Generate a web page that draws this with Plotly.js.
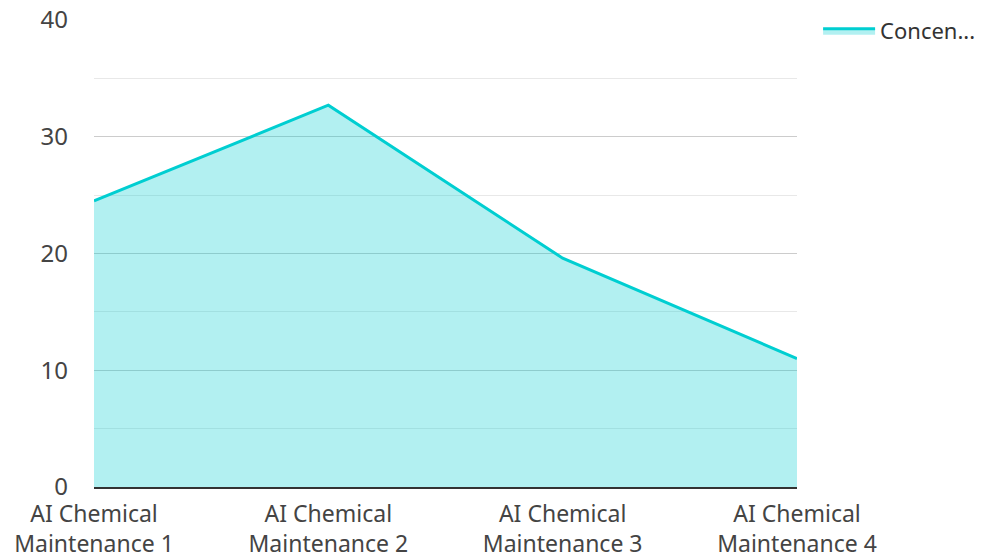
<!DOCTYPE html>
<html>
<head>
<meta charset="utf-8">
<script src="https://cdn.plot.ly/plotly-3.0.1.min.js"></script>
<style>html,body{margin:0;padding:0;background:#fff;}#chart{width:988px;height:559px;}</style>
</head>
<body>
<div id="chart"></div>
<script>
const categories = ["AI Chemical<br>Maintenance 1", "AI Chemical<br>Maintenance 2", "AI Chemical<br>Maintenance 3", "AI Chemical<br>Maintenance 4"];
const seriesName = "Concen...";
const concentration = [24.5, 32.7, 19.6, 11.0];
const yTickVals = [0, 10, 20, 30, 40];

const trace = {
  type: "scatter",
  mode: "lines",
  x: categories,
  y: concentration,
  name: seriesName,
  fill: "tozeroy",
  fillcolor: "rgba(0,206,209,0.3)",
  line: {color: "#00CED1", width: 3}
};

const layout = {
  width: 988,
  height: 559,
  margin: {l: 94, r: 191, t: 20, b: 72, autoexpand: false},
  paper_bgcolor: "#fff",
  plot_bgcolor: "#fff",
  font: {family: "Noto Sans, Open Sans, sans-serif", size: 24, color: "#444"},
  showlegend: true,
  legend: {x: 1.03, xanchor: "left", yref: "container", y: 0.982, yanchor: "top", itemwidth: 52, font: {size: 22, color: "#333"}},
  xaxis: {
    type: "category",
    range: [0, 3],
    automargin: false,
    showgrid: false,
    showline: true,
    linecolor: "#333",
    linewidth: 2,
    ticks: "",
    ticklabelstandoff: 5,
    tickfont: {size: 23, color: "#444"}
  },
  yaxis: {
    range: [0, 40],
    automargin: false,
    tickvals: yTickVals,
    showgrid: true,
    gridcolor: "#ccc",
    gridwidth: 1,
    zeroline: false,
    showline: false,
    ticks: "",
    ticklabelstandoff: 25,
    tickfont: {size: 24, color: "#444"},
    minor: {dtick: 5, showgrid: true, gridcolor: "#e8e8e8", gridwidth: 1}
  }
};

Plotly.newPlot("chart", [trace], layout, {displayModeBar: false, staticPlot: true});
</script>
</body>
</html>
